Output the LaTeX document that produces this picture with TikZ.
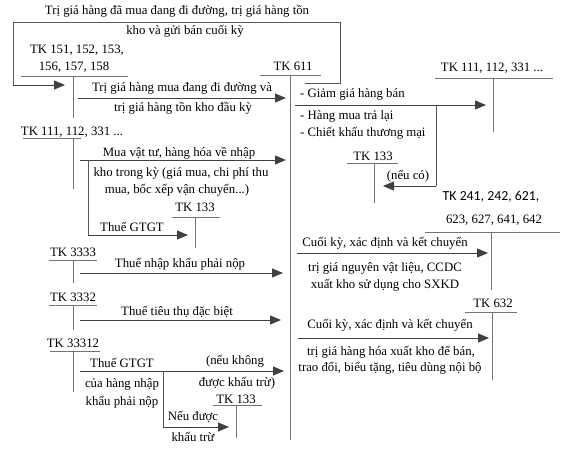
\documentclass[tikz,border=0pt]{standalone}
\usepackage{fontspec}
\setmainfont{Liberation Serif}
\newfontfamily\calibrifont{Carlito}
\usetikzlibrary{arrows.meta}
\begin{document}
\begin{tikzpicture}[x=1pt,y=-1pt,
  ln/.style={draw=black!65, line width=0.9pt},
  acc/.style={draw=black!55, line width=0.9pt},
  arr/.style={draw=black!75, line width=0.9pt, -{Triangle[length=11pt,width=9pt]}},
  txt/.style={font=\fontsize{12.8}{15}\selectfont, inner sep=0pt, text=black},
  lft/.style={txt, anchor=west}]
\useasboundingbox (0,0) rectangle (574,450);

% ---------- top bracket ----------
\node[txt] (top1) at (177,11) {Trị giá hàng đã mua đang đi đường, trị giá hàng tồn};
\node[txt] (top2) at (185,31) {kho và gửi bán cuối kỳ};
\coordinate (b1) at (305,83);
\coordinate (b2) at (340,83);
\coordinate (b3) at (340,22);
\coordinate (b4) at (13,22);
\coordinate (b5) at (13,85);
\coordinate (b6) at (65,85);
\draw[ln] (b1) -- (b2) -- (b3) -- (b4) -- (b5);
\draw[arr] (b5) -- (b6);

% ---------- TK 151 ----------
\node[txt] (tk151a) at (77,50) {TK 151, 152, 153,};
\node[txt] (tk151b) at (74,67) {156, 157, 158};
\coordinate (h151a) at (21,76); \coordinate (h151b) at (128,76);
\coordinate (v151a) at (73,76); \coordinate (v151b) at (73,118);
\draw[acc] (h151a) -- (h151b);
\draw[acc] (v151a) -- (v151b);
\coordinate (a1s) at (78,98); \coordinate (a1e) at (286,98);
\draw[arr] (a1s) -- (a1e);
\node[txt] (t1a) at (182,88) {Trị giá hàng mua đang đi đường và};
\node[txt] (t1b) at (183,108) {trị giá hàng tồn kho đầu kỳ};

% ---------- TK 611 ----------
\node[txt] (tk611) at (293,66) {TK 611};
\coordinate (h611a) at (260,75); \coordinate (h611b) at (321,75);
\coordinate (v611a) at (290,75); \coordinate (v611b) at (290,440);
\draw[acc] (h611a) -- (h611b);
\draw[acc] (v611a) -- (v611b);

% ---------- TK 111 right ----------
\node[txt] (tk111r) at (492,68) {TK 111, 112, 331 ...};
\coordinate (h111ra) at (435,78); \coordinate (h111rb) at (553,78);
\coordinate (v111ra) at (493,78); \coordinate (v111rb) at (493,132);
\draw[acc] (h111ra) -- (h111rb);
\draw[acc] (v111ra) -- (v111rb);
\coordinate (a2s) at (295,105); \coordinate (a2e) at (486,105);
\draw[arr] (a2s) -- (a2e);
\node[lft] (t2a) at (300,94) {- Giảm giá hàng bán};
\node[lft] (t2b) at (300,116) {- Hàng mua trả lại};
\node[lft] (t2c) at (300,133) {- Chiết khấu thương mại};
\coordinate (br1) at (436,105); \coordinate (br2) at (436,186); \coordinate (br3) at (383,186);
\draw[ln] (br1) -- (br2);
\draw[arr] (br2) -- (br3);
\node[txt] (neuco) at (408,176) {(nếu có)};

% ---------- TK 133 right ----------
\node[txt] (tk133r) at (373,156) {TK 133};
\coordinate (h133ra) at (347,163); \coordinate (h133rb) at (398,163);
\coordinate (v133ra) at (374,163); \coordinate (v133rb) at (374,203);
\draw[acc] (h133ra) -- (h133rb);
\draw[acc] (v133ra) -- (v133rb);

% ---------- TK 241 ----------
\node[txt, font=\calibrifont\fontsize{13.8}{16}\selectfont] (tk241a) at (491,197) {TK 241, 242, 621,};
\node[txt] (tk241b) at (494,220) {623, 627, 641, 642};
\coordinate (h241a) at (425,232); \coordinate (h241b) at (560,232);
\coordinate (v241a) at (491,232); \coordinate (v241b) at (491,290);
\draw[acc] (h241a) -- (h241b);
\draw[acc] (v241a) -- (v241b);
\coordinate (a3s) at (297,253); \coordinate (a3e) at (488,253);
\draw[arr] (a3s) -- (a3e);
\node[txt] (t3a) at (385,243) {Cuối kỳ, xác định và kết chuyển};
\node[txt] (t3b) at (385,268) {trị giá nguyên vật liệu, CCDC};
\node[txt] (t3c) at (385,285) {xuất kho sử dụng cho SXKD};

% ---------- TK 632 ----------
\node[txt] (tk632) at (493,303) {TK 632};
\coordinate (h632a) at (465,312); \coordinate (h632b) at (517,312);
\coordinate (v632a) at (492,312); \coordinate (v632b) at (492,380);
\draw[acc] (h632a) -- (h632b);
\draw[acc] (v632a) -- (v632b);
\coordinate (a4s) at (298,338); \coordinate (a4e) at (489,338);
\draw[arr] (a4s) -- (a4e);
\node[txt] (t4a) at (390,325) {Cuối kỳ, xác định và kết chuyển};
\node[txt] (t4b) at (391,352) {trị giá hàng hóa xuất kho để bán,};
\node[txt] (t4c) at (390,368) {trao đổi, biểu tặng, tiêu dùng nội bộ};

% ---------- TK 111 left ----------
\node[txt] (tk111l) at (72,132) {TK 111, 112, 331 ...};
\coordinate (h111la) at (23,138); \coordinate (h111lb) at (81,138);
\coordinate (v111la) at (73,138); \coordinate (v111lb) at (73,189);
\draw[acc] (h111la) -- (h111lb);
\draw[acc] (v111la) -- (v111lb);
\coordinate (a5s) at (80,160); \coordinate (a5e) at (286,160);
\draw[arr] (a5s) -- (a5e);
\node[txt] (t5a) at (179,153) {Mua vật tư, hàng hóa về nhập};
\node[txt] (t5b) at (181,173) {kho trong kỳ (giá mua, chi phí thu};
\node[txt] (t5c) at (177,190) {mua, bốc xếp vận chuyển...)};
\coordinate (c1) at (88,160); \coordinate (c2) at (88,235); \coordinate (c3) at (188,235);
\draw[ln] (c1) -- (c2);
\draw[arr] (c2) -- (c3);
\node[txt] (t5d) at (132,227) {Thuế GTGT};

% ---------- TK 133 left ----------
\node[txt] (tk133l) at (195,207) {TK 133};
\coordinate (h133la) at (172,217); \coordinate (h133lb) at (220,217);
\coordinate (v133la) at (195,217); \coordinate (v133lb) at (195,248);
\draw[acc] (h133la) -- (h133lb);
\draw[acc] (v133la) -- (v133lb);

% ---------- TK 3333 ----------
\node[txt] (tk3333) at (73,252) {TK 3333};
\coordinate (h3333a) at (49,260); \coordinate (h3333b) at (97,260);
\coordinate (v3333a) at (73,260); \coordinate (v3333b) at (73,283);
\draw[acc] (h3333a) -- (h3333b);
\draw[acc] (v3333a) -- (v3333b);
\coordinate (a6s) at (80,273); \coordinate (a6e) at (283,273);
\draw[arr] (a6s) -- (a6e);
\node[txt] (t6) at (180,264) {Thuế nhập khẩu phải nộp};

% ---------- TK 3332 ----------
\node[txt] (tk3332) at (73,297) {TK 3332};
\coordinate (h3332a) at (49,305); \coordinate (h3332b) at (97,305);
\coordinate (v3332a) at (73,305); \coordinate (v3332b) at (73,330);
\draw[acc] (h3332a) -- (h3332b);
\draw[acc] (v3332a) -- (v3332b);
\coordinate (a7s) at (80,320); \coordinate (a7e) at (281,320);
\draw[arr] (a7s) -- (a7e);
\node[txt] (t7) at (177,312) {Thuế tiêu thụ đặc biệt};

% ---------- TK 33312 ----------
\node[txt] (tk33312) at (73,343) {TK 33312};
\coordinate (h33312a) at (50,351); \coordinate (h33312b) at (100,351);
\coordinate (v33312a) at (73,351); \coordinate (v33312b) at (73,392);
\draw[acc] (h33312a) -- (h33312b);
\draw[acc] (v33312a) -- (v33312b);
\coordinate (a8s) at (80,371); \coordinate (a8e) at (284,371);
\draw[arr] (a8s) -- (a8e);
\node[txt] (t8a) at (122,363) {Thuế GTGT};
\node[txt] (t8b) at (235,361) {(nếu không};
\node[txt] (t8c) at (237,383) {được khấu trừ)};
\node[txt] (t8d) at (122,384) {của hàng nhập};
\node[txt] (t8e) at (122,402) {khẩu phải nộp};
\coordinate (d1) at (163,371); \coordinate (d2) at (163,427); \coordinate (d3) at (229,427);
\draw[ln] (d1) -- (d2);
\draw[arr] (d2) -- (d3);
\node[txt] (t8f) at (193,417) {Nếu được};
\node[txt] (t8g) at (193,437) {khấu trừ};

% ---------- TK 133 bottom ----------
\node[txt] (tk133b) at (236,399) {TK 133};
\coordinate (h133ba) at (213,405); \coordinate (h133bb) at (262,405);
\coordinate (v133ba) at (236,405); \coordinate (v133bb) at (236,438);
\draw[acc] (h133ba) -- (h133bb);
\draw[acc] (v133ba) -- (v133bb);
\end{tikzpicture}
\end{document}
